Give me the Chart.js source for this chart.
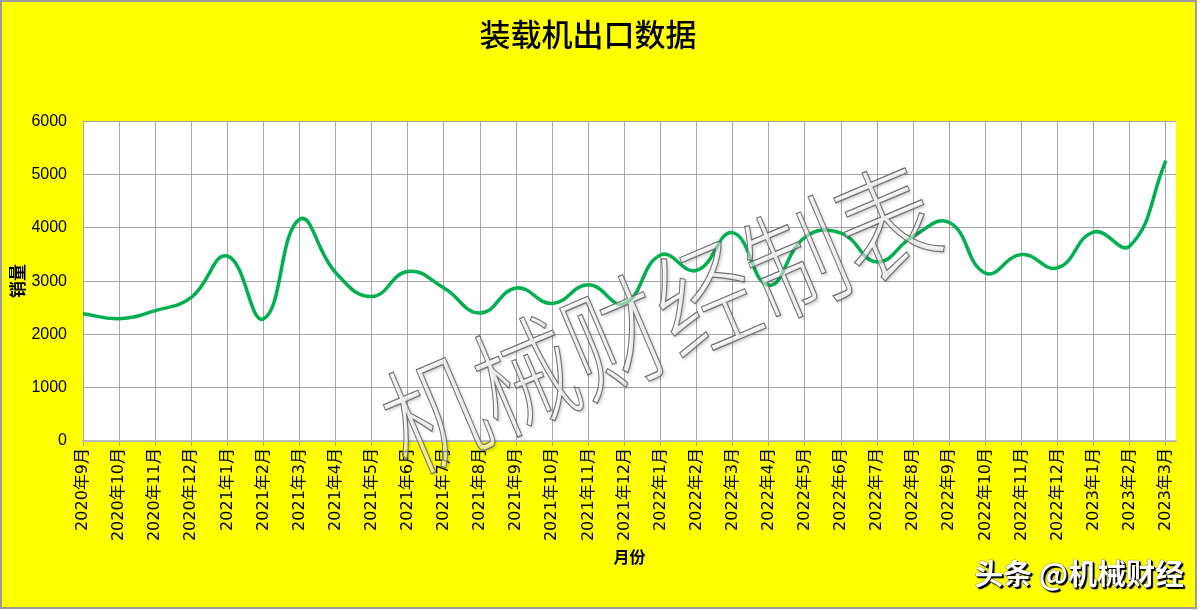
<!DOCTYPE html>
<html>
<head>
<meta charset="utf-8">
<script src="https://cdn.jsdelivr.net/npm/chart.js@4.4.1/dist/chart.umd.min.js"></script>
<style>
  html, body { margin: 0; padding: 0; background: #fff; }
  #wrap { position: relative; width: 1200px; height: 611px; }
  #brand {
    position: absolute; right: 16px; top: 551px;
    font-family: "Noto Sans CJK SC", sans-serif; font-weight: bold; font-size: 29px;
    color: #fff; white-space: nowrap;
    text-shadow: 1px 1px 0 #000, 2px 2px 1px #000, 0 0 1px #000;
  }
</style>
</head>
<body>
<div id="wrap">
  <canvas id="export_chart" width="1200" height="611"></canvas>
  <div id="brand">头条 @机械财经</div>
</div>
<script>
const chart_title = "装载机出口数据";
const months = ["2020年9月", "2020年10月", "2020年11月", "2020年12月",
  "2021年1月", "2021年2月", "2021年3月", "2021年4月", "2021年5月", "2021年6月",
  "2021年7月", "2021年8月", "2021年9月", "2021年10月", "2021年11月", "2021年12月",
  "2022年1月", "2022年2月", "2022年3月", "2022年4月", "2022年5月", "2022年6月",
  "2022年7月", "2022年8月", "2022年9月", "2022年10月", "2022年11月", "2022年12月",
  "2023年1月", "2023年2月", "2023年3月"];
const sales = [2390, 2295, 2445, 2695, 3470, 2290, 4160, 3160, 2710, 3180,
  2870, 2400, 2870, 2580, 2930, 2580, 3490, 3200, 3910, 2920,
  3820, 3900, 3360, 3840, 4100, 3150, 3500, 3250, 3920, 3660, 5260];
const y_ticks = [0, 1000, 2000, 3000, 4000, 5000, 6000];
const watermark = "机械财经制表";

const grid_color = "#a6a6a6";

// yellow frame + white plot area
const background_plugin = {
  id: "background_plugin",
  beforeDraw(chart) {
    const ctx = chart.ctx;
    const area = chart.chartArea;
    ctx.save();
    ctx.fillStyle = "#ffffff";
    ctx.fillRect(0, 0, chart.width, chart.height);
    ctx.fillStyle = "#ffff00";
    ctx.fillRect(1, 1, 1195, 607);
    ctx.strokeStyle = "#9c9c9c";
    ctx.lineWidth = 2;
    ctx.strokeRect(1, 1, 1195, 607);
    ctx.fillStyle = "#ffffff";
    ctx.fillRect(area.left, area.top, area.right - area.left, area.bottom - area.top);
    ctx.restore();
  }
};

const watermark_plugin = {
  id: "watermark_plugin",
  afterDatasetsDraw(chart) {
    const ctx = chart.ctx;
    ctx.save();
    ctx.translate(660, 318);
    ctx.rotate(-23 * Math.PI / 180);
    ctx.scale(1, 1.22);
    ctx.font = "300 98px 'Noto Sans CJK SC'";
    ctx.textAlign = "center";
    ctx.textBaseline = "middle";
    ctx.shadowColor = "rgba(0,0,0,0.35)";
    ctx.shadowBlur = 3;
    ctx.shadowOffsetX = 2;
    ctx.shadowOffsetY = 2;
    ctx.fillStyle = "rgba(255,255,255,0.55)";
    ctx.fillText(watermark, 0, 0);
    ctx.shadowColor = "transparent";
    ctx.strokeStyle = "#6f6f6f";
    ctx.lineWidth = 1;
    ctx.strokeText(watermark, 0, 0);
    ctx.restore();
  }
};

new Chart(document.getElementById("export_chart"), {
  type: "line",
  data: {
    datasets: [{
      data: months.map((m, i) => ({x: i, y: sales[i]})),
      borderColor: "#00b050",
      borderWidth: 3.5,
      pointRadius: 0,
      tension: 0.45,
      fill: false
    }]
  },
  plugins: [background_plugin, watermark_plugin],
  options: {
    responsive: false,
    animation: false,
    events: [],
    layout: {padding: {left: 0, right: 24, top: 0, bottom: 0}},
    plugins: {
      legend: {display: false},
      tooltip: {enabled: false},
      title: {
        display: true,
        text: chart_title,
        color: "#000",
        font: {family: "'Noto Sans CJK SC'", size: 31, weight: "500", lineHeight: 1.2},
        padding: {top: 16, bottom: 68}
      }
    },
    scales: {
      x: {
        type: "linear",
        min: 0,
        max: 30.28,
        afterBuildTicks(scale) {
          scale.ticks = months.map((m, i) => ({value: i}));
        },
        afterFit(scale) { scale.height = 170; },
        ticks: {
          autoSkip: false,
          minRotation: 90,
          maxRotation: 90,
          padding: 2,
          color: "#000",
          font: {family: "'DejaVu Sans', 'Noto Sans CJK SC'", size: 16},
          callback: (value) => months[value]
        },
        grid: {color: grid_color, lineWidth: 1, drawTicks: true, tickLength: 5},
        border: {color: "#bfbfbf", width: 1.5},
        title: {
          display: true,
          text: "月份",
          color: "#000",
          font: {family: "'Noto Sans CJK SC'", size: 16, weight: "bold", lineHeight: 1.2},
          padding: {top: 0, bottom: 44}
        }
      },
      y: {
        min: 0,
        max: 6000,
        afterBuildTicks(scale) {
          scale.ticks = y_ticks.map(v => ({value: v}));
        },
        afterFit(scale) { scale.width = 83; },
        ticks: {
          padding: 16,
          color: "#000",
          font: {family: "'Liberation Sans'", size: 16},
          callback: (value) => String(value)
        },
        grid: {color: grid_color, lineWidth: 1, drawTicks: false},
        border: {color: grid_color, width: 1},
        title: {
          display: true,
          text: "销量",
          color: "#000",
          font: {family: "'Noto Sans CJK SC'", size: 17, weight: "bold", lineHeight: 1.2},
          padding: {top: 7, bottom: 0}
        }
      }
    }
  }
});
</script>
</body>
</html>
